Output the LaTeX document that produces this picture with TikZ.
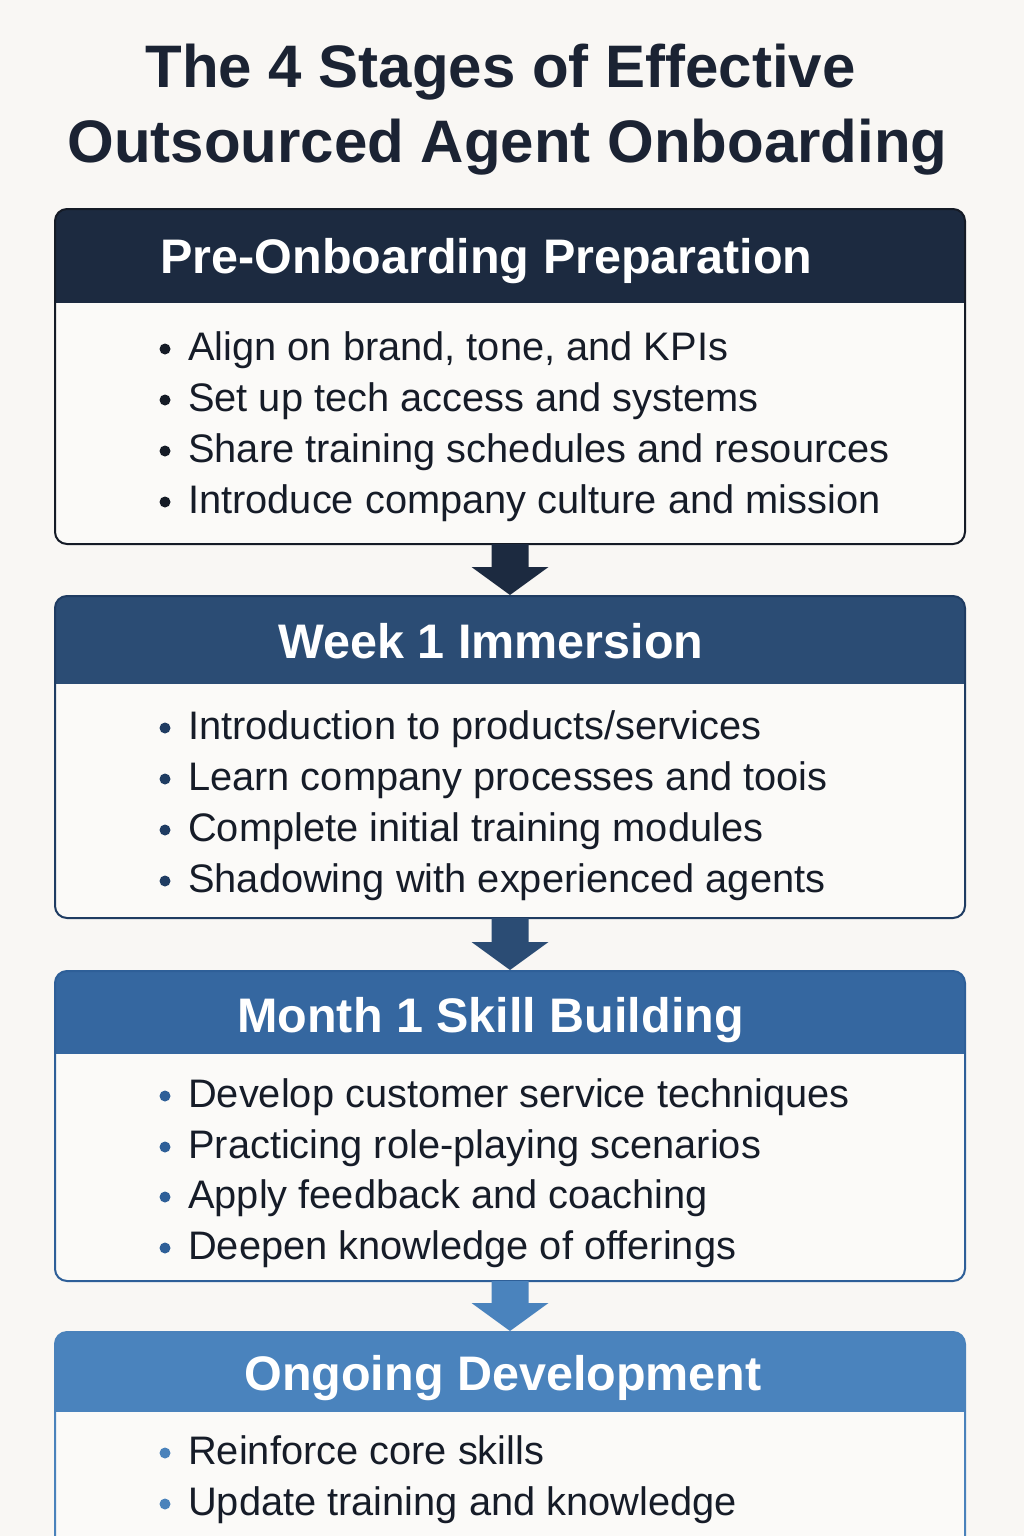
\documentclass[tikz,border=0pt]{standalone}
\usepackage{fontspec}
\setmainfont{Liberation Sans}
\usetikzlibrary{calc}
\definecolor{bgc}{HTML}{F9F7F4}
\definecolor{bodyc}{HTML}{FBFAF8}
\definecolor{titlec}{HTML}{1B2333}
\definecolor{textc}{HTML}{161C28}
\definecolor{cA}{HTML}{1C2A40}
\definecolor{cB}{HTML}{2B4C74}
\definecolor{cC}{HTML}{3567A0}
\definecolor{cD}{HTML}{4A83BD}
\definecolor{bA}{HTML}{151B26}
\definecolor{bB}{HTML}{1F3C62}
\definecolor{bC}{HTML}{2E5F98}
\definecolor{bD}{HTML}{4A82BB}
\tikzset{
  stagebox/.style={rectangle, rounded corners=12pt, fill=bodyc, minimum width=910pt, inner sep=0pt, outer sep=0pt},
  titletxt/.style={anchor=base, inner sep=0pt, text=titlec, font=\bfseries\fontsize{60}{70}\selectfont},
  headtxt/.style={anchor=base, inner sep=0pt, text=white, font=\bfseries\fontsize{48.5}{58}\selectfont},
  itemtxt/.style={anchor=base west, inner sep=0pt, text=textc, font=\fontsize{39.8}{47}\selectfont},
  dotmark/.style={circle, inner sep=0pt, minimum size=11pt},
}
\begin{document}
\begin{tikzpicture}[x=1pt,y=-1pt]
\useasboundingbox (0,0) rectangle (1024,1536);
\clip (0,0) rectangle (1024,1536);
\fill[bgc] (0,0) rectangle (1024,1536);

% title
\node[titletxt] (t1) at (500.5,88) {The 4 Stages of Effective};
\node[titletxt] (t2) at (507.5,162) {Outsourced Agent Onboarding};

% stage boxes
\node[stagebox, minimum height=335pt] (s1) at (510,376.5) {};
\node[stagebox, minimum height=322pt] (s2) at (510,757) {};
\node[stagebox, minimum height=310pt] (s3) at (510,1126) {};
\node[stagebox, minimum height=300pt] (s4) at (510,1482) {};

% header bands
\foreach \s/\c/\h in {s1/cA/94, s2/cB/88, s3/cC/83, s4/cD/80}{
  \begin{scope}
    \clip[rounded corners=12pt] (\s.north west) rectangle (\s.south east);
    \fill[\c] (\s.north west) rectangle ([yshift=-\h pt]\s.north east);
  \end{scope}
}
% borders
\draw[bA, line width=2pt, rounded corners=12pt] (s1.north west) rectangle (s1.south east);
\draw[bB, line width=2pt, rounded corners=12pt] (s2.north west) rectangle (s2.south east);
\draw[bC, line width=2pt, rounded corners=12pt] (s3.north west) rectangle (s3.south east);
\draw[bD, line width=2pt, rounded corners=12pt] (s4.north west) rectangle (s4.south east);

% arrows between stages
\foreach \a/\b/\c in {s1/s2/cA, s2/s3/cB, s3/s4/cD}{
  \fill[\c] ([xshift=-18.5pt]\a.south) -- ([xshift=18.5pt]\a.south)
    -- ($(\b.north)+(18.5,-29)$) -- ($(\b.north)+(38.5,-29)$)
    -- ($(\b.north)+(0,-1)$) -- ($(\b.north)+(-38.5,-29)$)
    -- ($(\b.north)+(-18.5,-29)$) -- cycle;
}

% headers
\node[headtxt] (h1) at (486.5,273) {Pre-Onboarding Preparation};
\node[headtxt] (h2) at (491,658) {Week 1 Immersion};
\node[headtxt] (h3) at (490.5,1032) {Month 1 Skill Building};
\node[headtxt] (h4) at (503,1390) {Ongoing Development};

% items
\foreach \y/\t [count=\i] in {
  360/{Align on brand, tone, and KPIs},
  411/{Set up tech access and systems},
  462/{Share training schedules and resources},
  513/{Introduce company culture and mission}}{
  \node[dotmark, fill=bA] (pa\i) at (165,\y-11) {};
  \node[itemtxt] (la\i) at (188,\y) {\t};
}
\foreach \y/\t [count=\i] in {
  739/{Introduction to products/services},
  790/{Learn company processes and toois},
  841/{Complete initial training modules},
  892/{Shadowing with experienced agents}}{
  \node[dotmark, fill=bB] (pb\i) at (165,\y-11) {};
  \node[itemtxt] (lb\i) at (188,\y) {\t};
}
\foreach \y/\t [count=\i] in {
  1107/{Develop customer service techniques},
  1158/{Practicing role-playing scenarios},
  1208/{Apply feedback and coaching},
  1259/{Deepen knowledge of offerings}}{
  \node[dotmark, fill=bC] (pc\i) at (165,\y-11) {};
  \node[itemtxt] (lc\i) at (188,\y) {\t};
}
\foreach \y/\t [count=\i] in {
  1464/{Reinforce core skills},
  1515/{Update training and knowledge}}{
  \node[dotmark, fill=bD] (pd\i) at (165,\y-11) {};
  \node[itemtxt] (ld\i) at (188,\y) {\t};
}
\end{tikzpicture}
\end{document}
